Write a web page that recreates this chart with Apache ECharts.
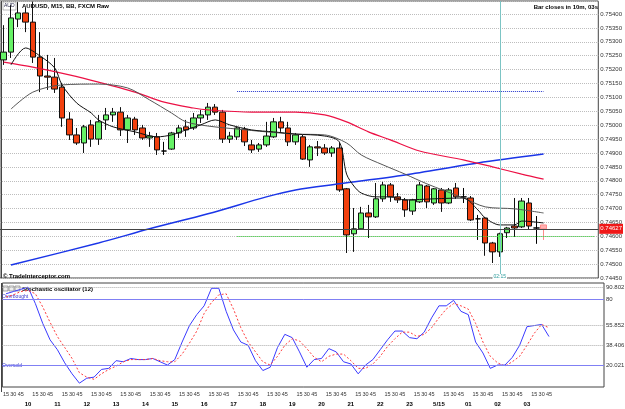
<!DOCTYPE html>
<html>
<head>
<meta charset="utf-8">
<script src="https://cdn.jsdelivr.net/npm/echarts@6/dist/echarts.min.js"></script>
<style>
  html, body { margin: 0; padding: 0; background: #fff; }
  #main { width: 625px; height: 409px; }
</style>
</head>
<body>
<div id="main"></div>
<script>
// M15 bars, first visible bar is 09:15, last one (03:45) still forming
const barCount = 75;
const emptyBars = 7; // free space on the right of the last bar

// OHLC
const open = [0.75235, 0.75263, 0.75382, 0.75404, 0.75371, 0.75245, 0.75177, 0.75173, 0.75137, 0.75022,
  0.74965, 0.74936, 0.75001, 0.74950, 0.75019, 0.75037, 0.75047, 0.74983, 0.75022, 0.74990,
  0.74954, 0.74958, 0.74907, 0.74914, 0.74972, 0.74994, 0.74990, 0.75026, 0.75037, 0.75065,
  0.75047, 0.74950, 0.74958, 0.74986, 0.74929, 0.74914, 0.74929, 0.74958, 0.75012, 0.74990,
  0.74940, 0.74958, 0.74875, 0.74922, 0.74918, 0.74900, 0.74918, 0.74771, 0.74609, 0.74627,
  0.74684, 0.74670, 0.74735, 0.74785, 0.74742, 0.74731, 0.74691, 0.74724, 0.74781, 0.74720,
  0.74767, 0.74720, 0.74774, 0.74742, 0.74738, 0.74663, 0.74666, 0.74576, 0.74544, 0.74613,
  0.74637, 0.74634, 0.74720, 0.74630, 0.74641];
const close = [0.75263, 0.75386, 0.75404, 0.75371, 0.75245, 0.75177, 0.75173, 0.75130, 0.75026, 0.74965,
  0.74936, 0.74994, 0.74950, 0.75012, 0.75037, 0.75047, 0.74983, 0.75026, 0.74983, 0.74954,
  0.74961, 0.74911, 0.74907, 0.74972, 0.74990, 0.74983, 0.75026, 0.75037, 0.75065, 0.75047,
  0.74950, 0.74961, 0.74990, 0.74940, 0.74911, 0.74929, 0.74961, 0.75012, 0.74990, 0.74940,
  0.74965, 0.74878, 0.74922, 0.74918, 0.74900, 0.74918, 0.74767, 0.74605, 0.74627, 0.74684,
  0.74670, 0.74735, 0.74785, 0.74742, 0.74731, 0.74695, 0.74731, 0.74785, 0.74724, 0.74771,
  0.74720, 0.74767, 0.74742, 0.74742, 0.74659, 0.74663, 0.74576, 0.74544, 0.74609, 0.74630,
  0.74630, 0.74727, 0.74637, 0.74630, 0.74627];
const low = [0.75217, 0.75242, 0.75353, 0.75335, 0.75224, 0.75119, 0.75127, 0.75116, 0.74994, 0.74947,
  0.74929, 0.74900, 0.74922, 0.74929, 0.74983, 0.75012, 0.74961, 0.74936, 0.74965, 0.74947,
  0.74922, 0.74893, 0.74893, 0.74911, 0.74954, 0.74958, 0.74983, 0.75008, 0.75019, 0.75037,
  0.74936, 0.74936, 0.74947, 0.74925, 0.74900, 0.74904, 0.74922, 0.74954, 0.74976, 0.74925,
  0.74929, 0.74875, 0.74850, 0.74889, 0.74893, 0.74886, 0.74760, 0.74540, 0.74544, 0.74624,
  0.74594, 0.74666, 0.74724, 0.74724, 0.74720, 0.74670, 0.74677, 0.74720, 0.74702, 0.74713,
  0.74688, 0.74716, 0.74735, 0.74720, 0.74655, 0.74587, 0.74530, 0.74504, 0.74526, 0.74594,
  0.74598, 0.74630, 0.74624, 0.74573, 0.74587];
const high = [0.75360, 0.75432, 0.75443, 0.75422, 0.75445, 0.75335, 0.75253, 0.75242, 0.75152, 0.75047,
  0.74990, 0.75001, 0.75019, 0.75037, 0.75062, 0.75062, 0.75065, 0.75037, 0.75030, 0.75001,
  0.74976, 0.74972, 0.74940, 0.74976, 0.75001, 0.75019, 0.75044, 0.75055, 0.75080, 0.75076,
  0.75055, 0.74976, 0.74994, 0.74994, 0.74947, 0.74936, 0.75012, 0.75026, 0.75030, 0.75012,
  0.74972, 0.74965, 0.74929, 0.74943, 0.74932, 0.74925, 0.74936, 0.74774, 0.74702, 0.74706,
  0.74713, 0.74792, 0.74796, 0.74792, 0.74756, 0.74738, 0.74735, 0.74796, 0.74785, 0.74774,
  0.74774, 0.74774, 0.74792, 0.74774, 0.74745, 0.74677, 0.74670, 0.74580, 0.74613, 0.74634,
  0.74738, 0.74738, 0.74738, 0.74673, 0.74641];

// moving averages, [bar index, price] read at points along each curve
const fastMA = [[1, 0.75217], [3, 0.75278], [5, 0.75249], [7, 0.75206], [8, 0.75145], [10, 0.75080],
  [12, 0.75044], [13, 0.75019], [15, 0.74994], [18, 0.74976], [21, 0.74958], [23, 0.74965],
  [25, 0.74983], [27, 0.75001], [29, 0.75019], [31, 0.75001], [34, 0.74983], [37, 0.74976],
  [40, 0.74968], [44, 0.74961], [46, 0.74940], [47, 0.74824], [48, 0.74781], [49, 0.74756],
  [51, 0.74742], [53, 0.74742], [55, 0.74731], [59, 0.74735], [63, 0.74738], [65, 0.74695],
  [66, 0.74666], [68, 0.74641], [70, 0.74641], [71, 0.74655], [74, 0.74648]];
const slowMA = [[1, 0.75058], [4, 0.75119], [8, 0.75145], [13, 0.75148], [17, 0.75134], [20, 0.75091],
  [23, 0.75044], [25, 0.75012], [28, 0.74997], [32, 0.74986], [36, 0.74976], [40, 0.74968],
  [44, 0.74965], [47, 0.74936], [49, 0.74893], [52, 0.74857], [55, 0.74824], [58, 0.74789],
  [63, 0.74738], [66, 0.74706], [70, 0.74699], [74, 0.74684]];
const redMA = [[0, 0.75227], [4, 0.75209], [9, 0.75181], [13, 0.75155], [18, 0.75119], [22, 0.75083],
  [26, 0.75062], [28, 0.75055], [34, 0.75047], [40, 0.75047], [44, 0.75037], [47, 0.75012],
  [50, 0.74976], [53, 0.74947], [57, 0.74907], [63, 0.74875], [67, 0.74850], [71, 0.74824], [74, 0.74806]];
const blueMA = [[1, 0.74497], [13, 0.74576], [20, 0.74627], [28, 0.74681], [36, 0.74742], [40, 0.74767],
  [46, 0.74789], [55, 0.74821], [65, 0.74864], [74, 0.74896]];

// stochastic oscillator (12)
const stochK = [85, 87, 89, 91, 76, 58, 43, 34, 22, 12, 3.5, 8, 9, 16, 17, 24, 23, 26, 25, 25,
  26, 23, 20, 25, 41, 56, 66, 74, 90, 90, 69, 52, 41, 38, 24, 15, 18, 36, 48, 45,
  32, 18, 25, 26, 35, 32, 23, 21, 12, 20, 25, 34, 43, 51, 51, 45, 44, 50, 63, 74,
  74, 79, 69, 66, 41, 31, 17, 20, 20, 27, 38, 55, 56, 57, 46];
const stochD = [82, 84, 87, 88, 85, 73, 59, 46, 36, 26, 13, 9, 7, 12, 16, 19, 23, 25, 25, 25,
  26, 24, 23, 23, 30, 40, 51, 67, 77, 84, 85, 71, 54, 41, 32, 23, 20, 28, 38, 44,
  42, 35, 27, 23, 28, 30, 30, 24, 17, 17, 21, 28, 37, 44, 50, 50, 46, 48, 54, 63,
  71, 76, 74, 71, 58, 41, 28, 22, 19, 23, 28, 38, 49, 57, 54];
const stochLevels = [90.802, 55.852, 38.406];
const overbought = 80;
const oversold = 20.021;

// horizontal levels on the price panel
const lastPrice = 0.74627;
const greenLevel = 0.746;
const blueLevel = 0.75123;
const levelFrom = 32;
const crossBar = 68;

// categories: 09:15 onward every 15 minutes
const times = [];
for (let i = 0; i < barCount + emptyBars; i++) {
  const m = 9 * 60 + 15 + i * 15;
  const hh = String(Math.floor(m / 60) % 24).padStart(2, '0');
  const mm = String(m % 60).padStart(2, '0');
  times.push(hh + ':' + mm);
}

const font = 'Liberation Sans';

const candleData = open.map((o, i) => {
  const item = { value: [o, close[i], low[i], high[i]] };
  if (i === barCount - 1) {
    // forming bar drawn pale
    item.itemStyle = { color: '#ffb0b0', color0: '#ffb0b0', borderColor: '#ff8a8a', borderColor0: '#ff8a8a' };
  }
  return item;
});

const chart = echarts.init(document.getElementById('main'));

const option = {
  animation: false,
  textStyle: { fontFamily: font },
  grid: [
    { left: -2, right: 21, top: 1, height: 277, show: true, borderColor: '#444', borderWidth: 1 },
    { left: -2, right: 21, top: 283, height: 109, show: true, borderColor: '#444', borderWidth: 1 }
  ],
  xAxis: [
    {
      type: 'category', gridIndex: 0, data: times, boundaryGap: true,
      axisLine: { show: false }, axisTick: { show: false }, axisLabel: { show: false }, splitLine: { show: false }
    },
    {
      type: 'category', gridIndex: 1, data: times, boundaryGap: true,
      axisLine: { show: false }, axisTick: { show: false }, splitLine: { show: false },
      axisLabel: {
        interval: 0, margin: 2, lineHeight: 10, fontFamily: font,
        formatter: function (value, index) {
          if (index >= barCount) return '';
          const parts = value.split(':');
          if (parts[1] !== '00') return '{m|' + parts[1] + '}';
          return '{m| }\n{h|' + (parts[0] === '00' ? '5/15' : parts[0]) + '}';
        },
        rich: {
          m: { fontSize: 5.5, color: '#333', lineHeight: 10, fontFamily: font },
          h: { fontSize: 6, fontWeight: 'bold', color: '#000', lineHeight: 10, fontFamily: font }
        }
      }
    }
  ],
  yAxis: [
    {
      type: 'value', gridIndex: 0, position: 'right', min: 0.7445, max: 0.75447, interval: 0.0005,
      axisLine: { show: false }, axisTick: { show: false },
      axisLabel: {
        fontSize: 6, color: '#333', margin: 2, showMaxLabel: false, fontFamily: font,
        formatter: v => v.toFixed(5)
      },
      splitLine: { show: true, lineStyle: { color: '#bdbdbd', type: 'dotted', width: 1 } }
    },
    {
      type: 'value', gridIndex: 1, position: 'right', min: 0, max: 94.8,
      axisLine: { show: false }, axisTick: { show: false }, axisLabel: { show: false }, splitLine: { show: false }
    }
  ],
  series: [
    {
      name: 'price', type: 'candlestick', xAxisIndex: 0, yAxisIndex: 0, barWidth: 6,
      data: candleData,
      itemStyle: {
        color: '#66f266', color0: '#f2400e', borderColor: '#111', borderColor0: '#111',
        borderColorDoji: '#000', borderWidth: 1
      },
      markLine: {
        silent: true, symbol: 'none', animation: false, precision: 5,
        data: [
          [
            { coord: [times[levelFrom], greenLevel], lineStyle: { color: '#44dd44', type: 'dotted', width: 1 }, label: { show: false } },
            { coord: [times[barCount + emptyBars - 1], greenLevel] }
          ],
          [
            { coord: [times[levelFrom], blueLevel], lineStyle: { color: '#2233cc', type: 'dotted', width: 1 }, label: { show: false } },
            { coord: [times[barCount - 1], blueLevel] }
          ],
          {
            xAxis: times[crossBar],
            lineStyle: { color: '#7cc4c4', type: 'solid', width: 1 },
            label: {
              show: true, position: 'start', distance: -4, formatter: times[crossBar],
              color: '#2a9a9a', backgroundColor: '#fff', fontSize: 5, padding: [0, 1], fontFamily: font
            }
          }
        ]
      }
    },
    {
      name: 'blue', type: 'line', xAxisIndex: 0, yAxisIndex: 0, data: blueMA, symbol: 'none', smooth: 0.3,
      lineStyle: { color: '#1a35e8', width: 1.5 }, z: 3,
      markLine: {
        silent: true, symbol: 'none', animation: false, precision: 5,
        data: [{
          yAxis: lastPrice,
          lineStyle: { color: '#444', type: 'solid', width: 1 },
          label: {
            show: true, position: 'end', distance: 1, formatter: lastPrice.toFixed(5),
            color: '#fff', backgroundColor: '#f01818', fontSize: 6, padding: [2, 1], fontFamily: font
          }
        }]
      }
    },
    {
      name: 'red', type: 'line', xAxisIndex: 0, yAxisIndex: 0, data: redMA, symbol: 'none', smooth: 0.3,
      lineStyle: { color: '#ec1145', width: 1.2 }, z: 3
    },
    {
      name: 'slow', type: 'line', xAxisIndex: 0, yAxisIndex: 0, data: slowMA, symbol: 'none', smooth: 0.3,
      lineStyle: { color: '#555', width: 1 }, z: 3
    },
    {
      name: 'fast', type: 'line', xAxisIndex: 0, yAxisIndex: 0, data: fastMA, symbol: 'none', smooth: 0.3,
      lineStyle: { color: '#111', width: 1 }, z: 3
    },
    {
      name: '%K', type: 'line', xAxisIndex: 1, yAxisIndex: 1, data: stochK, symbol: 'none',
      lineStyle: { color: '#3a3aff', width: 1 },
      markLine: {
        silent: true, symbol: 'none', animation: false, precision: 3,
        label: { show: true, position: 'end', distance: 2, fontSize: 6, color: '#333', fontFamily: font },
        data: stochLevels.map(v => ({
          yAxis: v, lineStyle: { color: '#aaa', type: 'dotted', width: 1 },
          label: { formatter: String(v) }
        })).concat([overbought, oversold].map(v => ({
          yAxis: v, lineStyle: { color: '#8080f4', type: 'solid', width: 1 },
          label: { formatter: String(v) }
        })))
      }
    },
    {
      name: '%D', type: 'line', xAxisIndex: 1, yAxisIndex: 1, data: stochD, symbol: 'none',
      lineStyle: { color: '#ff3a3a', width: 1, type: [2, 2] }
    }
  ],
  graphic: [
    { type: 'line', shape: { x1: 1.5, y1: 1, x2: 1.5, y2: 278 }, style: { stroke: '#444', lineWidth: 1 } },
    { type: 'line', shape: { x1: 1.5, y1: 283, x2: 1.5, y2: 392 }, style: { stroke: '#444', lineWidth: 1 } },
    { type: 'rect', shape: { x: 3, y: 2, width: 13, height: 8 }, style: { fill: '#fff', stroke: '#777', lineWidth: 0.5 } },
    { type: 'text', x: 4, y: 3, style: { text: 'AUD', fontSize: 5, fill: '#224', font: '5px ' + font } },
    { type: 'text', x: 22, y: 3, style: { text: 'AUDUSD, M15, BB, FXCM Raw', fill: '#000', font: 'bold 6px ' + font } },
    { type: 'text', x: 598, y: 4, style: { text: 'Bar closes in 10m, 03s', fill: '#000', font: 'bold 6px ' + font, align: 'right' } },
    { type: 'text', x: 3, y: 273, style: { text: '\u00a9 TradeInterceptor.com', fill: '#000', font: 'bold 6px ' + font } },
    { type: 'rect', shape: { x: 3, y: 286, width: 5, height: 5 }, style: { fill: '#eee', stroke: '#555', lineWidth: 0.5 } },
    { type: 'rect', shape: { x: 9, y: 286, width: 5, height: 5 }, style: { fill: '#eee', stroke: '#555', lineWidth: 0.5 } },
    { type: 'rect', shape: { x: 15, y: 286, width: 5, height: 5 }, style: { fill: '#eee', stroke: '#555', lineWidth: 0.5 } },
    { type: 'text', x: 22, y: 286, style: { text: 'Stochastic oscillator (12)', fill: '#000', font: 'bold 6px ' + font } },
    { type: 'text', x: 2, y: 294, style: { text: 'Overbought', fill: '#3a3acc', font: '5px ' + font } },
    { type: 'text', x: 2, y: 363, style: { text: 'Oversold', fill: '#3a3acc', font: '5px ' + font } }
  ]
};

chart.setOption(option);
</script>
</body>
</html>
